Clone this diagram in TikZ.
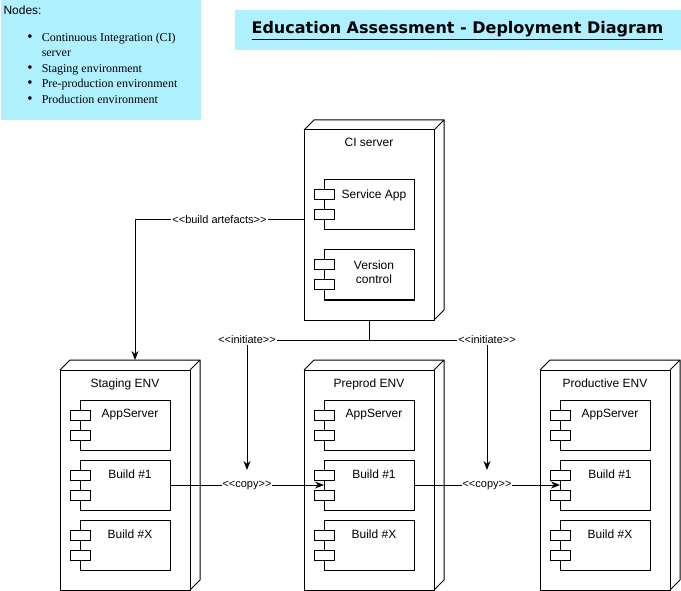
\documentclass[tikz,border=0pt]{standalone}
\usepackage{fontspec}
\setmainfont{Liberation Serif}
\setsansfont{Liberation Sans}[Ligatures=TeXOff]
\newfontfamily\titlefont{DejaVu Sans}
\usetikzlibrary{arrows.meta,positioning}
\definecolor{notecyan}{RGB}{175,240,255}
\tikzset{
  node3d/.style={draw, fill=white, anchor=north west, outer sep=0pt, minimum width=130,
                 label={[font=\sffamily\fontsize{12}{14}\selectfont, anchor=north,
                         yshift=-8pt, inner sep=0pt]north:#1}},
  comp/.style={draw, fill=white, anchor=north west, outer sep=0pt,
               minimum width=90, minimum height=50,
               label={[font=\sffamily\fontsize{12}{14}\selectfont, anchor=north,
                       xshift=5pt, yshift=-9pt, inner sep=0pt]north:{#1}}},
  stereo/.style={font=\sffamily\fontsize{11}{13}\selectfont, fill=white, inner sep=1pt},
  arr/.style={-{Stealth[length=9pt,width=7pt]}}
}
\begin{document}
\begin{tikzpicture}[x=1pt, y=-1pt, line width=1pt]
      \useasboundingbox (0,0) rectangle (681,591);
      \node[fill=notecyan, anchor=north west, inner sep=0pt] (note) at (0,0)
           {\begin{minipage}[c][120pt][t]{200pt}
            \sffamily\fontsize{12}{15.5}\selectfont\hspace*{3pt}\rule{0pt}{14pt}Nodes:\par
            \vspace{11.5pt}
            \rmfamily\hspace*{27pt}\begin{tabular}[t]{@{}c@{\hspace{9pt}}l@{}}
              {\fontsize{15}{15}\selectfont\textbullet} & Continuous Integration (CI)\\
                          & server\\
              {\fontsize{15}{15}\selectfont\textbullet} & Staging environment\\
              {\fontsize{15}{15}\selectfont\textbullet} & Pre-production environment\\
              {\fontsize{15}{15}\selectfont\textbullet} & Production environment
            \end{tabular}
            \end{minipage}};
      \node[fill=notecyan, anchor=north west, minimum width=446, minimum height=40,
            font=\titlefont\bfseries\fontsize{16}{19}\selectfont] (title) at (234,10)
           {\underline{Education Assessment - Deployment Diagram}};
      \node[node3d=CI server, minimum height=190] (ci) at (304,130) {};
      \node[node3d=Staging ENV, minimum height=220] (stg) at (60,370) {};
      \node[node3d=Preprod ENV, minimum height=220] (pre) at (304,370) {};
      \node[node3d=Productive ENV, minimum height=220] (prd) at (540,370) {};
      \foreach \n in {ci,stg,pre,prd}
        \draw (\n.north west) -- ++(10,-10) -| ([shift={(10,-10)}]\n.south east) -- (\n.south east)
              (\n.north east) -- ++(10,-10);
      \node[comp=Service App] (sapp) at (324,180) {};
      \node[comp={\begin{tabular}{@{}c@{}}Version\\control\end{tabular}}] (vcs) at (324,250) {};
      \node[comp=AppServer] (stgapp) at (80,400) {};
      \node[comp=Build \#1] (stgb1) at (80,460) {};
      \node[comp=Build \#X] (stgbx) at (80,520) {};
      \node[comp=AppServer] (preapp) at (324,400) {};
      \node[comp=Build \#1] (preb1) at (324,460) {};
      \node[comp=Build \#X] (prebx) at (324,520) {};
      \node[comp=AppServer] (prdapp) at (560,400) {};
      \node[comp=Build \#1] (prdb1) at (560,460) {};
      \node[comp=Build \#X] (prdbx) at (560,520) {};
      \foreach \c in {sapp,vcs,stgapp,stgb1,stgbx,preapp,preb1,prebx,prdapp,prdb1,prdbx}
        \draw[fill=white] (\c.north west) ++(-10,10) rectangle ++(20,10)
                          (\c.north west) ++(-10,30) rectangle ++(20,10);
      \draw[arr] ([yshift=5pt]ci.west) -| node[stereo, pos=.25] {<<build artefacts>>}
                 ([shift={(10,-10)}]stg.north);
      \draw[arr] (stgb1.east) -- node[stereo] (cpa) {<<copy>>} (preb1.west);
      \draw[arr] (preb1.east) -- node[stereo] (cpb) {<<copy>>} (prdb1.west);
      \draw (ci.south) -- ++(0,20) coordinate (fork);
      \draw[arr] (fork) -| node[stereo] {<<initiate>>} ([yshift=15pt]cpa.center);
      \draw[arr] (fork) -| node[stereo] {<<initiate>>} ([yshift=15pt]cpb.center);
\end{tikzpicture}
\end{document}
